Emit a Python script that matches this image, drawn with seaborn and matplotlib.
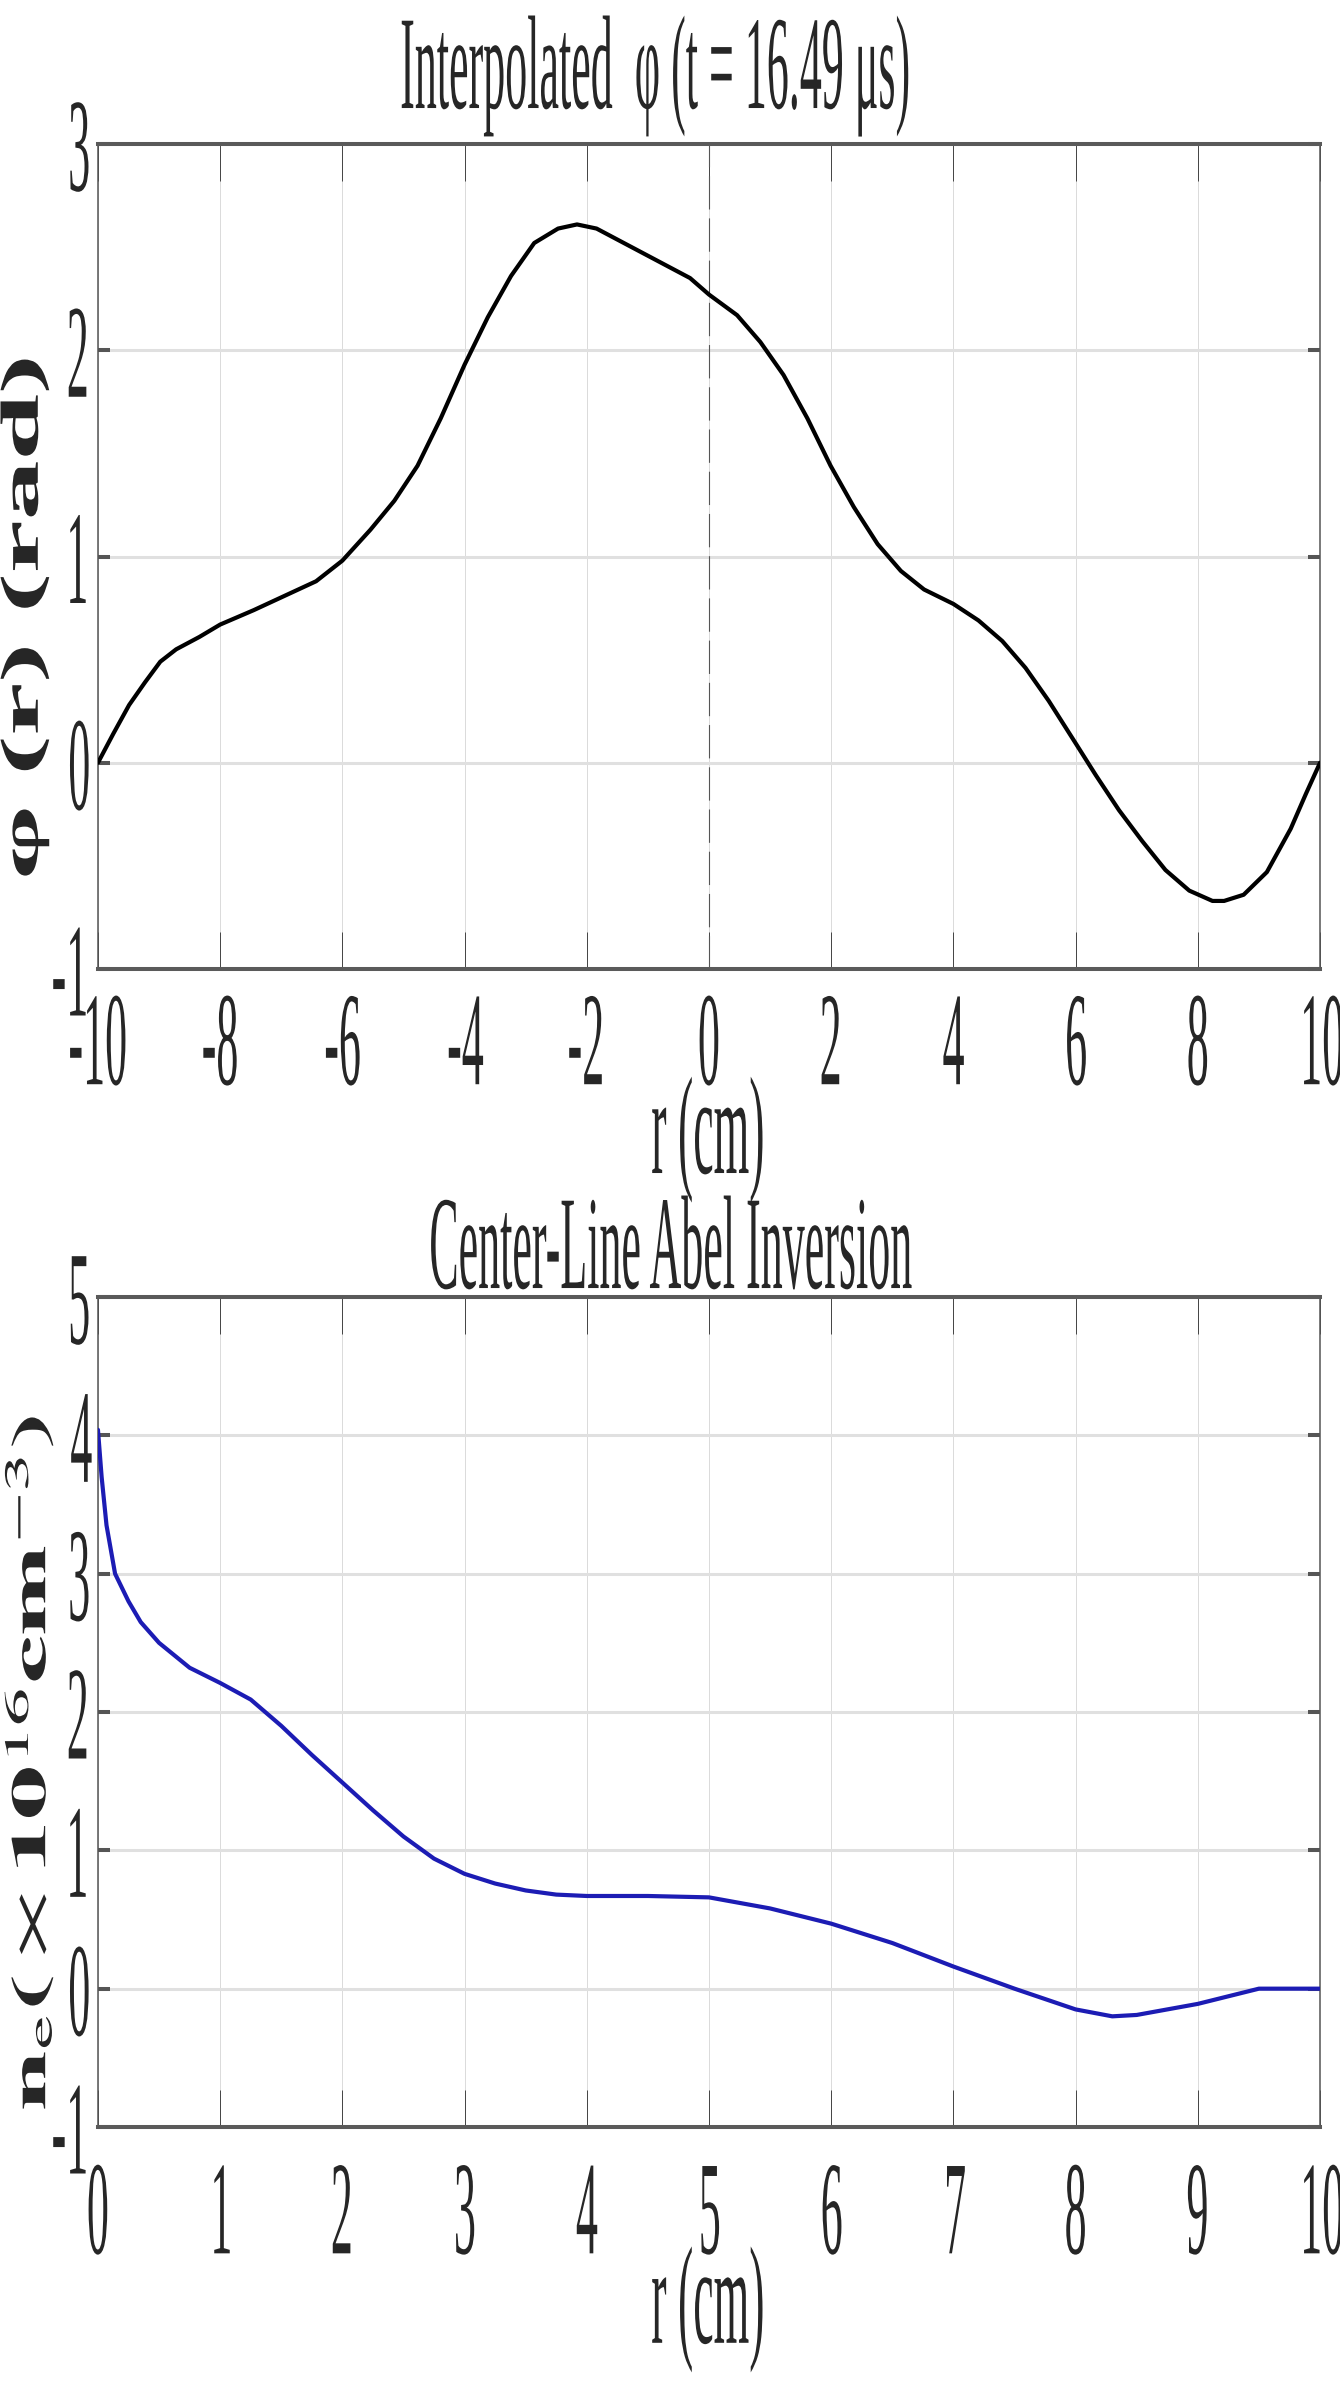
import matplotlib
matplotlib.use("Agg")
import matplotlib.pyplot as plt
import matplotlib.patheffects as pe
from matplotlib.transforms import Affine2D
import seaborn as sns

# phase profile
phi_r = [-10, -9.75, -9.49, -9.23, -8.98, -8.72, -8.34, -8, -7.45, -6.94, -6.43, -6, -5.54,
         -5.15, -4.77, -4.39, -4, -3.62, -3.24, -2.86, -2.47, -2.16, -1.84, -1.33, -0.82,
         -0.31, 0, 0.46, 0.84, 1.22, 1.61, 1.99, 2.37, 2.76, 3.14, 3.52, 4, 4.41, 4.8,
         5.18, 5.56, 6.01, 6.33, 6.71, 7.09, 7.47, 7.86, 8.24, 8.43, 8.75, 9.13, 9.52,
         9.77, 10]
phi_val = [0.0, 0.14, 0.28, 0.39, 0.49, 0.55, 0.61, 0.67, 0.74, 0.81, 0.88, 0.98, 1.13,
           1.27, 1.44, 1.67, 1.93, 2.16, 2.36, 2.52, 2.59, 2.61, 2.59, 2.51, 2.43,
           2.35, 2.27, 2.17, 2.04, 1.88, 1.67, 1.44, 1.24, 1.06, 0.93, 0.84, 0.77, 0.69, 0.59,
           0.46, 0.30, 0.09, -0.06, -0.23, -0.38, -0.52, -0.62, -0.67, -0.67, -0.64, -0.53, -0.32,
           -0.15, 0.0]

# center-line density
ne_r = [0, 0.03, 0.07, 0.14, 0.25, 0.35, 0.5, 0.75, 1, 1.25, 1.5, 1.75, 2, 2.25, 2.5,
        2.75, 3, 3.25, 3.5, 3.75, 4, 4.5, 5, 5.5, 6, 6.5, 7, 7.5, 8, 8.3, 8.5, 9, 9.5, 10]
ne_val = [4.04, 3.70, 3.35, 3.00, 2.80, 2.65, 2.50, 2.32, 2.21, 2.09, 1.90, 1.69, 1.49, 1.29, 1.10,
          0.94, 0.83, 0.76, 0.71, 0.68, 0.67, 0.67, 0.66, 0.58, 0.47, 0.33, 0.16, 0.0, -0.15,
          -0.20, -0.19, -0.11, 0.0, 0.0]

top_xticks = [-10, -8, -6, -4, -2, 0, 2, 4, 6, 8, 10]
top_yticks = [-1, 0, 1, 2, 3]
bot_xticks = [0, 1, 2, 3, 4, 5, 6, 7, 8, 9, 10]
bot_yticks = [-1, 0, 1, 2, 3, 4, 5]

sns.set_style("white")
plt.rcParams["font.family"] = ["Liberation Serif", "DejaVu Serif"]
plt.rcParams["mathtext.fontset"] = "stix"
plt.rcParams["axes.unicode_minus"] = False


class Squeeze(pe.AbstractPathEffect):
    # the reference text is drawn tall and narrow, so squash glyphs sideways
    def __init__(self, anchor="center", sx=0.33):
        super().__init__()
        self.anchor = anchor
        self.sx = sx

    def draw_path(self, renderer, gc, tpath, affine, rgbFace=None):
        box = tpath.get_extents(affine)
        x0 = {"left": box.x0, "center": (box.x0 + box.x1) / 2, "right": box.x1}[self.anchor]
        sq = Affine2D().translate(-x0, 0).scale(self.sx, 1).translate(x0, 0)
        renderer.draw_path(gc, tpath, affine + sq, rgbFace)


def style_axes(ax, xticks, yticks, xpad):
    ax.set_xticks(xticks)
    ax.set_xticklabels([str(t) for t in xticks])
    ax.set_yticks(yticks)
    ax.set_yticklabels([str(t) for t in yticks])
    ax.xaxis.grid(True, color="#dadada", linewidth=0.7)
    ax.yaxis.grid(True, color="#e0e0e0", linewidth=2.2)
    ax.tick_params(axis="x", direction="in", length=26.5, width=0.7, color="#444444",
                   top=True, bottom=True, labelsize=96, pad=xpad)
    ax.tick_params(axis="y", direction="in", length=8.6, width=2.9, color="#555555",
                   left=True, right=True, labelsize=96, pad=3)
    for side in ["top", "bottom"]:
        ax.spines[side].set_linewidth(2.9)
        ax.spines[side].set_color("#5a5a5a")
    for side in ["left", "right"]:
        ax.spines[side].set_linewidth(1.1)
        ax.spines[side].set_color("#555555")
    for lab in ax.get_xticklabels():
        lab.set_path_effects([Squeeze("center")])
    for lab in ax.get_yticklabels():
        lab.set_path_effects([Squeeze("right")])
    ax.title.set_path_effects([Squeeze("center")])
    ax.xaxis.label.set_path_effects([Squeeze("center")])
    ax.yaxis.label.set_path_effects([Squeeze("center", sx=0.45)])


fig = plt.figure(figsize=(13.4, 24), dpi=100)
ax1 = fig.add_axes([0.0731, 0.59625, 0.912, 0.34375])
ax2 = fig.add_axes([0.0731, 0.11375, 0.912, 0.34583])

# upper panel
sns.lineplot(x=phi_r, y=phi_val, ax=ax1, color="black", linewidth=3.0, zorder=3)
ax1.axvline(0, color="#555555", linewidth=0.8, linestyle=(0, (30, 8)), zorder=2)
ax1.set_xlim(-10, 10)
ax1.set_ylim(-1, 3)
ax1.set_title("Interpolated  φ (t = 16.49 μs)", fontsize=96, x=0.4566, y=1.0436,
              va="baseline", pad=0)
ax1.set_xlabel("r (cm)", fontsize=100, va="baseline")
ax1.xaxis.set_label_coords(0.5, -0.2473)
ax1.set_ylabel("φ (r) (rad)", fontsize=86, fontweight="bold", va="center")
ax1.yaxis.set_label_coords(-0.0597, 0.4267)
style_axes(ax1, top_xticks, top_yticks, xpad=16)

# lower panel
sns.lineplot(x=ne_r, y=ne_val, ax=ax2, color="#1c1cb4", linewidth=3.0, zorder=3)
ax2.set_xlim(0, 10)
ax2.set_ylim(-1, 5)
ax2.set_title("Center-Line Abel Inversion", fontsize=96, x=0.468, y=1.0108,
              va="baseline", pad=0)
ax2.set_xlabel("r (cm)", fontsize=100, va="baseline")
ax2.xaxis.set_label_coords(0.5, -0.260)
ax2.set_ylabel(r"$\mathbf{n}_{\mathrm{e}}\mathbf{(}\times\mathbf{10}^{16}\mathbf{cm}^{-3}\mathbf{)}$",
               fontsize=78, va="center")
ax2.yaxis.set_label_coords(-0.0532, 0.4386)
style_axes(ax2, bot_xticks, bot_yticks, xpad=24)

fig.savefig("out.png", dpi=100)
